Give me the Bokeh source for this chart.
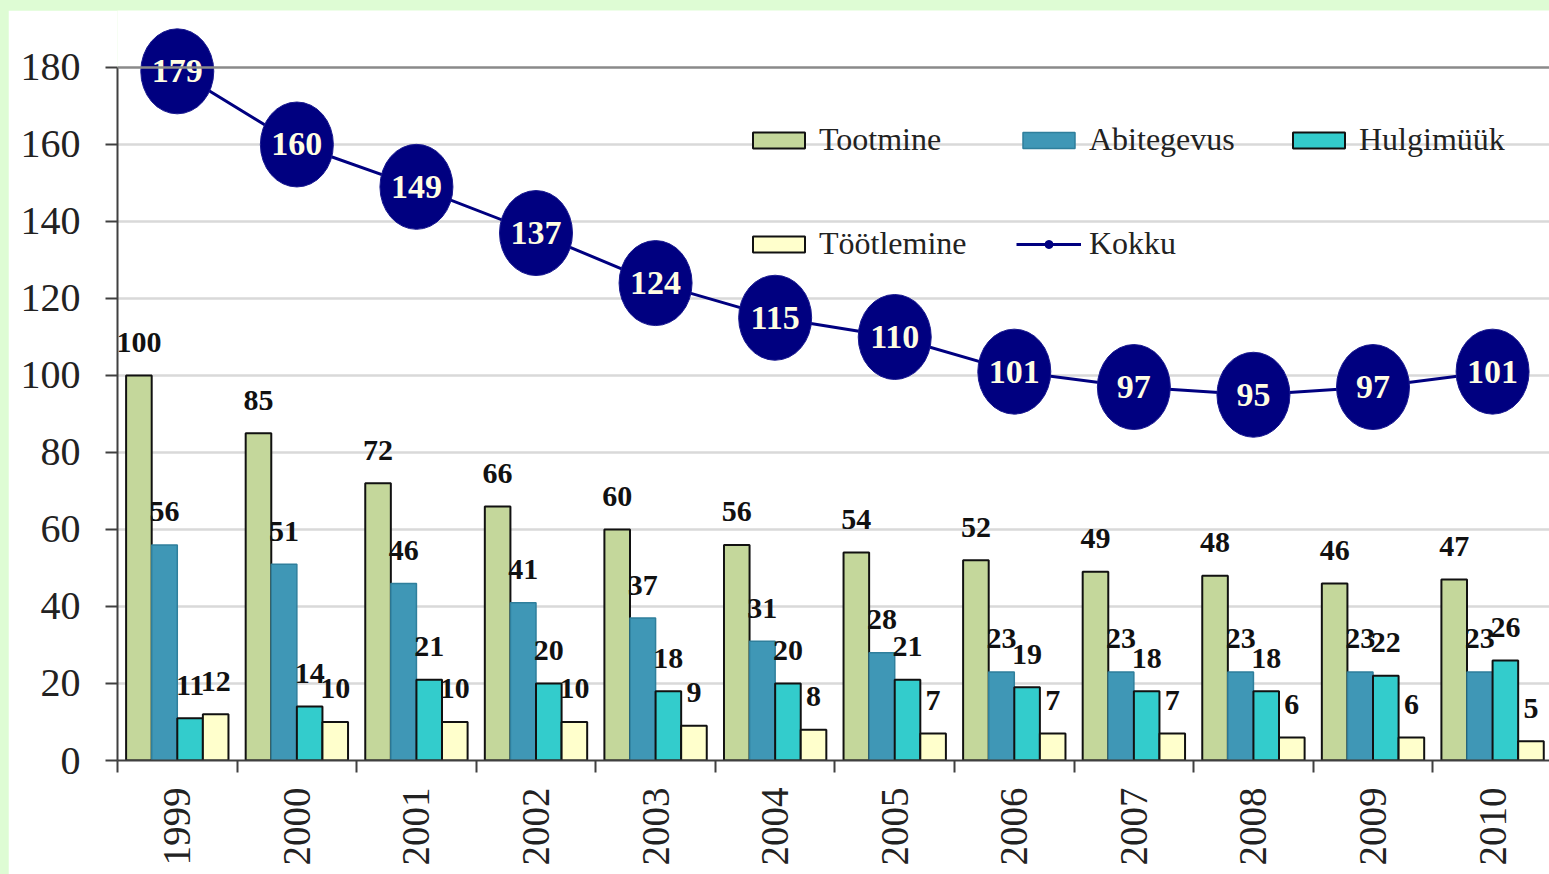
import math
from bokeh.plotting import figure
from bokeh.models import (ColumnDataSource, FixedTicker, Span, Legend, LegendItem, Range1d)
from bokeh.core.properties import value
from bokeh.embed import file_html
from bokeh.resources import INLINE

years = ["1999", "2000", "2001", "2002", "2003", "2004", "2005", "2006", "2007", "2008", "2009", "2010"]
tootmine = [100, 85, 72, 66, 60, 56, 54, 52, 49, 48, 46, 47]
abitegevus = [56, 51, 46, 41, 37, 31, 28, 23, 23, 23, 23, 23]
hulgimuuk = [11, 14, 21, 20, 18, 20, 21, 19, 18, 18, 22, 26]
tootlemine = [12, 10, 10, 10, 9, 8, 7, 7, 7, 6, 6, 5]
kokku = [179, 160, 149, 137, 124, 115, 110, 101, 97, 95, 97, 101]
y_ticks = [0, 20, 40, 60, 80, 100, 120, 140, 160, 180]

series = [
    ("Tootmine", tootmine, "#c4d79b", "#111111", 2),
    ("Abitegevus", abitegevus, "#3f97b6", "#2f7f9c", 1.5),
    ("Hulgimüük", hulgimuuk, "#33cccc", "#111111", 2),
    ("Töötlemine", tootlemine, "#ffffcc", "#111111", 2),
]

FONT = "Liberation Serif"
BAR_W = 0.214
centers = [i + 0.5 for i in range(len(years))]

p = figure(width=1541, height=864, output_backend="svg", toolbar_location=None,
           x_range=Range1d(0, 11.976), y_range=Range1d(0, 194.8),
           min_border_left=109, min_border_right=0, min_border_top=0, min_border_bottom=114)
p.outline_line_color = None
p.background_fill_color = "white"
p.border_fill_color = "white"

# grid
p.xgrid.visible = False
p.ygrid.ticker = FixedTicker(ticks=y_ticks[1:-1])
p.ygrid.grid_line_color = "#d9d9d9"
p.ygrid.grid_line_width = 2.5
p.add_layout(Span(location=180, dimension="width", line_color="#8a8a8a", line_width=2.5))

# axes
ya = p.yaxis[0]
ya.ticker = FixedTicker(ticks=y_ticks)
ya.bounds = (0, 180)
ya.axis_line_color = "#404040"
ya.axis_line_width = 2
ya.major_tick_line_color = "#404040"
ya.major_tick_line_width = 2
ya.major_tick_out = 12
ya.major_tick_in = 0
ya.minor_tick_line_color = None
ya.major_label_standoff = 25
ya.major_label_text_font = FONT
ya.major_label_text_font_size = "40px"
ya.major_label_text_color = "#222222"

xa = p.xaxis[0]
xa.ticker = FixedTicker(ticks=centers, minor_ticks=list(range(len(years) + 1)))
xa.major_label_overrides = {c: y for c, y in zip(centers, years)}
xa.axis_line_color = "#404040"
xa.axis_line_width = 2
xa.major_tick_line_color = None
xa.major_tick_out = 0
xa.major_tick_in = 0
xa.minor_tick_line_color = "#404040"
xa.minor_tick_line_width = 2
xa.minor_tick_out = 12
xa.minor_tick_in = 0
xa.major_label_orientation = math.pi / 2
xa.major_label_standoff = 15
xa.major_label_text_font = FONT
xa.major_label_text_font_size = "39px"
xa.major_label_text_color = "#222222"

# bars
bar_renderers = []
for k, (name, vals, fill, line, lw) in enumerate(series):
    off = (k - 1.5) * BAR_W
    xs = [c + off for c in centers]
    src = ColumnDataSource(dict(x=xs, top=vals, lab=[str(v) for v in vals]))
    r = p.vbar(x="x", top="top", width=BAR_W, bottom=0, source=src,
               fill_color=fill, line_color=line, line_width=lw)
    bar_renderers.append((name, r))
    p.text(x="x", y="top", text="lab", source=src, text_align="center",
           text_baseline="alphabetic", y_offset=-33,
           text_font=value(FONT), text_font_size="30px", text_font_style="bold",
           text_color="#111111")

# total line
navy = "#000080"
ksrc = ColumnDataSource(dict(x=centers, y=kokku, lab=[str(v) for v in kokku]))
line_r = p.line(x="x", y="y", source=ksrc, line_color=navy, line_width=3)
mark_r = p.scatter(x="x", y="y", source=ksrc, size=18, fill_color=navy, line_color=navy)
p.ellipse(x="x", y="y", width=73, height=85, width_units="screen", height_units="screen",
          source=ksrc, fill_color=navy, line_color="#1a1a90", line_width=1)
p.text(x="x", y="y", text="lab", source=ksrc, text_align="center", text_baseline="middle",
       text_font=value(FONT), text_font_size="34px", text_font_style="bold",
       text_color="#fffde2")

# legends, one per entry, placed in screen px from frame bottom-left
legend_spec = [
    ("Tootmine", [bar_renderers[0][1]], (629, 602)),
    ("Abitegevus", [bar_renderers[1][1]], (899, 602)),
    ("Hulgimüük", [bar_renderers[2][1]], (1169, 602)),
    ("Töötlemine", [bar_renderers[3][1]], (629, 498)),
    ("Kokku", [line_r, mark_r], (899, 498)),
]
for label, rends, loc in legend_spec:
    lg = Legend(items=[LegendItem(label=label, renderers=rends)], location=loc,
                padding=0, margin=0, border_line_color=None, background_fill_alpha=0,
                glyph_width=65, glyph_height=20, label_standoff=8,
                label_text_font=FONT, label_text_font_size="32px",
                label_text_color="#222222")
    p.add_layout(lg)

html = file_html(p, INLINE)
css = ("<style>html{overflow:hidden !important;background:#defcd4 !important;}"
       "body{background:#defcd4 !important;margin:0 !important;"
       "padding:10px 0 0 8px !important;overflow:hidden !important;"
       "box-sizing:border-box !important;}</style></head>")
html = html.replace("</head>", css, 1)
open("out.html", "w").write(html)
